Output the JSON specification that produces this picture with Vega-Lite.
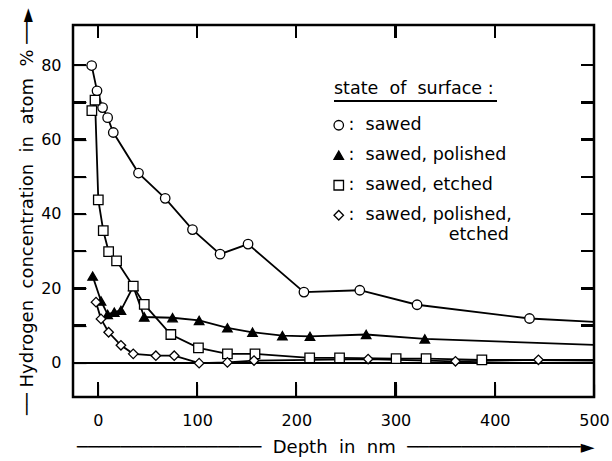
{
  "$schema": "https://vega.github.io/schema/vega-lite/v6.json",
  "width": 521,
  "height": 372,
  "autosize": {"type": "none"},
  "padding": {"left": 73, "top": 25, "right": 18, "bottom": 64},
  "background": "white",
  "config": {
    "font": "DejaVu Sans",
    "view": {"stroke": "black", "strokeWidth": 2.5},
    "axis": {
      "domain": false,
      "grid": false,
      "ticks": true,
      "offset": -13,
      "tickColor": "black",
      "tickOpacity": 1,
      "tickWidth": 1.2,
      "tickSize": 13,
      "labelFlush": false,
      "labelColor": "black",
      "labelFontSize": 16,
      "titleColor": "black",
      "titleFontWeight": "normal",
      "titleFontSize": 18
    }
  },
  "datasets": {
    "profiles": [
      {"state": "sawed", "depth": -6.2, "h": 79.9},
      {"state": "sawed", "depth": -0.8, "h": 73.1},
      {"state": "sawed", "depth": 4.8, "h": 68.6},
      {"state": "sawed", "depth": 9.9, "h": 65.9},
      {"state": "sawed", "depth": 15.6, "h": 61.9},
      {"state": "sawed", "depth": 41, "h": 51.0},
      {"state": "sawed", "depth": 67.9, "h": 44.2},
      {"state": "sawed", "depth": 95.4, "h": 35.8},
      {"state": "sawed", "depth": 123.2, "h": 29.2},
      {"state": "sawed", "depth": 151.4, "h": 31.9},
      {"state": "sawed", "depth": 207.7, "h": 19.0},
      {"state": "sawed", "depth": 264, "h": 19.5},
      {"state": "sawed", "depth": 321.7, "h": 15.6},
      {"state": "sawed", "depth": 435, "h": 11.9},
      {"state": "sawed", "depth": 500, "h": 11.0},

      {"state": "sawed, polished", "depth": -5.2, "h": 23.3},
      {"state": "sawed, polished", "depth": 3.2, "h": 16.6},
      {"state": "sawed, polished", "depth": 9.9, "h": 13.0},
      {"state": "sawed, polished", "depth": 16.6, "h": 13.6},
      {"state": "sawed, polished", "depth": 23.3, "h": 14.1},
      {"state": "sawed, polished", "depth": 35.7, "h": 20.5},
      {"state": "sawed, polished", "depth": 46.8, "h": 12.3},
      {"state": "sawed, polished", "depth": 75.3, "h": 12.1},
      {"state": "sawed, polished", "depth": 102.1, "h": 11.4},
      {"state": "sawed, polished", "depth": 130.6, "h": 9.4},
      {"state": "sawed, polished", "depth": 155.9, "h": 8.2},
      {"state": "sawed, polished", "depth": 186, "h": 7.3},
      {"state": "sawed, polished", "depth": 213.8, "h": 7.1},
      {"state": "sawed, polished", "depth": 270.4, "h": 7.6},
      {"state": "sawed, polished", "depth": 329.5, "h": 6.4},
      {"state": "sawed, polished", "depth": 500, "h": 4.8},

      {"state": "sawed, etched", "depth": -6, "h": 67.8},
      {"state": "sawed, etched", "depth": -2.8, "h": 70.6},
      {"state": "sawed, etched", "depth": 0.5, "h": 43.8},
      {"state": "sawed, etched", "depth": 5.5, "h": 35.5},
      {"state": "sawed, etched", "depth": 10.9, "h": 29.9},
      {"state": "sawed, etched", "depth": 18.9, "h": 27.4},
      {"state": "sawed, etched", "depth": 35.7, "h": 20.6},
      {"state": "sawed, etched", "depth": 46.8, "h": 15.7},
      {"state": "sawed, etched", "depth": 73.6, "h": 7.6},
      {"state": "sawed, etched", "depth": 101.4, "h": 4.0},
      {"state": "sawed, etched", "depth": 130.6, "h": 2.4},
      {"state": "sawed, etched", "depth": 158.4, "h": 2.4},
      {"state": "sawed, etched", "depth": 213.5, "h": 1.3},
      {"state": "sawed, etched", "depth": 243.6, "h": 1.3},
      {"state": "sawed, etched", "depth": 300.6, "h": 1.1},
      {"state": "sawed, etched", "depth": 330.8, "h": 1.1},
      {"state": "sawed, etched", "depth": 387, "h": 0.8},
      {"state": "sawed, etched", "depth": 500, "h": 0.6},

      {"state": "sawed, polished, etched", "depth": -1.8, "h": 16.3},
      {"state": "sawed, polished, etched", "depth": 3.2, "h": 11.8},
      {"state": "sawed, polished, etched", "depth": 10.9, "h": 8.2},
      {"state": "sawed, polished, etched", "depth": 23.3, "h": 4.7},
      {"state": "sawed, polished, etched", "depth": 35.7, "h": 2.4},
      {"state": "sawed, polished, etched", "depth": 58.5, "h": 1.9},
      {"state": "sawed, polished, etched", "depth": 77, "h": 1.9},
      {"state": "sawed, polished, etched", "depth": 102.1, "h": -0.1},
      {"state": "sawed, polished, etched", "depth": 130.6, "h": 0.1},
      {"state": "sawed, polished, etched", "depth": 157.4, "h": 0.6},
      {"state": "sawed, polished, etched", "depth": 272.4, "h": 1.0},
      {"state": "sawed, polished, etched", "depth": 360.4, "h": 0.4},
      {"state": "sawed, polished, etched", "depth": 444, "h": 0.8},
      {"state": "sawed, polished, etched", "depth": 500, "h": 0.8}
    ]
  },
  "data": {"name": "profiles"},
  "encoding": {
    "x": {
      "field": "depth",
      "type": "quantitative",
      "scale": {"domain": [-25, 500], "nice": false, "zero": false},
      "axis": null
    },
    "y": {
      "field": "h",
      "type": "quantitative",
      "scale": {"domain": [-9.2, 90.8], "nice": false, "zero": false},
      "axis": null
    }
  },
  "layer": [
    {
      "mark": {"type": "rule", "color": "black", "strokeWidth": 1},
      "encoding": {"y": {"datum": 0, "type": "quantitative", "axis": null}, "x": null}
    },
    {
      "mark": {"type": "rule", "color": "black", "strokeWidth": 1.3},
      "encoding": {
        "x": {"datum": 238, "type": "quantitative", "axis": null},
        "x2": {"datum": 402},
        "y": {"datum": 70.4, "type": "quantitative", "axis": null}
      }
    },
    {"mark": {"type": "rule", "color": "black", "strokeWidth": 1.4}, "encoding": {"x": {"datum": -25, "type": "quantitative", "axis": null}, "x2": {"datum": -11.9}, "y": {"datum": 10, "type": "quantitative", "axis": null}}},
    {"mark": {"type": "rule", "color": "black", "strokeWidth": 1.4}, "encoding": {"x": {"datum": -25, "type": "quantitative", "axis": null}, "x2": {"datum": -11.9}, "y": {"datum": 20, "type": "quantitative", "axis": null}}},
    {"mark": {"type": "rule", "color": "black", "strokeWidth": 1.4}, "encoding": {"x": {"datum": -25, "type": "quantitative", "axis": null}, "x2": {"datum": -11.9}, "y": {"datum": 30, "type": "quantitative", "axis": null}}},
    {"mark": {"type": "rule", "color": "black", "strokeWidth": 1.4}, "encoding": {"x": {"datum": -25, "type": "quantitative", "axis": null}, "x2": {"datum": -11.9}, "y": {"datum": 40, "type": "quantitative", "axis": null}}},
    {"mark": {"type": "rule", "color": "black", "strokeWidth": 1.4}, "encoding": {"x": {"datum": -25, "type": "quantitative", "axis": null}, "x2": {"datum": -11.9}, "y": {"datum": 50, "type": "quantitative", "axis": null}}},
    {"mark": {"type": "rule", "color": "black", "strokeWidth": 1.4}, "encoding": {"x": {"datum": -25, "type": "quantitative", "axis": null}, "x2": {"datum": -11.9}, "y": {"datum": 60, "type": "quantitative", "axis": null}}},
    {"mark": {"type": "rule", "color": "black", "strokeWidth": 1.4}, "encoding": {"x": {"datum": -25, "type": "quantitative", "axis": null}, "x2": {"datum": -11.9}, "y": {"datum": 70, "type": "quantitative", "axis": null}}},
    {"mark": {"type": "rule", "color": "black", "strokeWidth": 1.4}, "encoding": {"x": {"datum": -25, "type": "quantitative", "axis": null}, "x2": {"datum": -11.9}, "y": {"datum": 80, "type": "quantitative", "axis": null}}},
    {"mark": {"type": "rule", "color": "black", "strokeWidth": 1.4}, "encoding": {"x": {"datum": 486.9, "type": "quantitative", "axis": null}, "x2": {"datum": 500}, "y": {"datum": 10, "type": "quantitative", "axis": null}}},
    {"mark": {"type": "rule", "color": "black", "strokeWidth": 1.4}, "encoding": {"x": {"datum": 486.9, "type": "quantitative", "axis": null}, "x2": {"datum": 500}, "y": {"datum": 20, "type": "quantitative", "axis": null}}},
    {"mark": {"type": "rule", "color": "black", "strokeWidth": 1.4}, "encoding": {"x": {"datum": 486.9, "type": "quantitative", "axis": null}, "x2": {"datum": 500}, "y": {"datum": 30, "type": "quantitative", "axis": null}}},
    {"mark": {"type": "rule", "color": "black", "strokeWidth": 1.4}, "encoding": {"x": {"datum": 486.9, "type": "quantitative", "axis": null}, "x2": {"datum": 500}, "y": {"datum": 40, "type": "quantitative", "axis": null}}},
    {"mark": {"type": "rule", "color": "black", "strokeWidth": 1.4}, "encoding": {"x": {"datum": 486.9, "type": "quantitative", "axis": null}, "x2": {"datum": 500}, "y": {"datum": 50, "type": "quantitative", "axis": null}}},
    {"mark": {"type": "rule", "color": "black", "strokeWidth": 1.4}, "encoding": {"x": {"datum": 486.9, "type": "quantitative", "axis": null}, "x2": {"datum": 500}, "y": {"datum": 60, "type": "quantitative", "axis": null}}},
    {"mark": {"type": "rule", "color": "black", "strokeWidth": 1.4}, "encoding": {"x": {"datum": 486.9, "type": "quantitative", "axis": null}, "x2": {"datum": 500}, "y": {"datum": 70, "type": "quantitative", "axis": null}}},
    {"mark": {"type": "rule", "color": "black", "strokeWidth": 1.4}, "encoding": {"x": {"datum": 486.9, "type": "quantitative", "axis": null}, "x2": {"datum": 500}, "y": {"datum": 80, "type": "quantitative", "axis": null}}},
    {"mark": {"type": "rule", "color": "black", "strokeWidth": 1.4}, "encoding": {"x": {"datum": 0, "type": "quantitative", "axis": null}, "y": {"datum": -9.2, "type": "quantitative", "axis": null}, "y2": {"datum": -5.2}}},
    {"mark": {"type": "rule", "color": "black", "strokeWidth": 1.4}, "encoding": {"x": {"datum": 100, "type": "quantitative", "axis": null}, "y": {"datum": -9.2, "type": "quantitative", "axis": null}, "y2": {"datum": -5.2}}},
    {"mark": {"type": "rule", "color": "black", "strokeWidth": 1.4}, "encoding": {"x": {"datum": 200, "type": "quantitative", "axis": null}, "y": {"datum": -9.2, "type": "quantitative", "axis": null}, "y2": {"datum": -5.2}}},
    {"mark": {"type": "rule", "color": "black", "strokeWidth": 1.4}, "encoding": {"x": {"datum": 300, "type": "quantitative", "axis": null}, "y": {"datum": -9.2, "type": "quantitative", "axis": null}, "y2": {"datum": -5.2}}},
    {"mark": {"type": "rule", "color": "black", "strokeWidth": 1.4}, "encoding": {"x": {"datum": 400, "type": "quantitative", "axis": null}, "y": {"datum": -9.2, "type": "quantitative", "axis": null}, "y2": {"datum": -5.2}}},
    {"mark": {"type": "rule", "color": "black", "strokeWidth": 1.4}, "encoding": {"x": {"datum": 0, "type": "quantitative", "axis": null}, "y": {"datum": 87.3, "type": "quantitative", "axis": null}, "y2": {"datum": 90.8}}},
    {"mark": {"type": "rule", "color": "black", "strokeWidth": 1.4}, "encoding": {"x": {"datum": 100, "type": "quantitative", "axis": null}, "y": {"datum": 87.3, "type": "quantitative", "axis": null}, "y2": {"datum": 90.8}}},
    {"mark": {"type": "rule", "color": "black", "strokeWidth": 1.4}, "encoding": {"x": {"datum": 200, "type": "quantitative", "axis": null}, "y": {"datum": 87.3, "type": "quantitative", "axis": null}, "y2": {"datum": 90.8}}},
    {"mark": {"type": "rule", "color": "black", "strokeWidth": 1.4}, "encoding": {"x": {"datum": 300, "type": "quantitative", "axis": null}, "y": {"datum": 87.3, "type": "quantitative", "axis": null}, "y2": {"datum": 90.8}}},
    {"mark": {"type": "rule", "color": "black", "strokeWidth": 1.4}, "encoding": {"x": {"datum": 400, "type": "quantitative", "axis": null}, "y": {"datum": 87.3, "type": "quantitative", "axis": null}, "y2": {"datum": 90.8}}},
    {
      "mark": {"type": "line", "color": "black", "strokeWidth": 1.8},
      "encoding": {
        "detail": {"field": "state"},
        "x": {
          "field": "depth",
          "type": "quantitative",
          "axis": {
            "orient": "bottom",
            "values": [0, 100, 200, 300, 400, 500],
            "labelPadding": 15,
            "titlePadding": 10,
            "titleAnchor": "end",
            "title": "─────────────────\u00a0\u00a0Depth\u00a0\u00a0in\u00a0\u00a0nm\u00a0\u00a0────────────────►"
          }
        },
        "y": {
          "field": "h",
          "type": "quantitative",
          "axis": {
            "orient": "left",
            "values": [0, 10, 20, 30, 40, 50, 60, 70, 80],
            "labelExpr": "datum.value % 20 == 0 ? datum.label : ''",
            "labelPadding": 12,
            "titlePadding": 4,
            "title": "──\u00a0Hydrogen\u00a0\u00a0concentration\u00a0\u00a0in\u00a0\u00a0atom\u00a0\u00a0%\u00a0──►"
          }
        }
      }
    },
    {
      "transform": [{"filter": "datum.depth < 500"}],
      "mark": {"type": "point", "filled": false, "strokeWidth": 1.3, "size": 90, "opacity": 1},
      "encoding": {
        "shape": {
          "field": "state",
          "type": "nominal",
          "scale": {
            "domain": ["sawed", "sawed, polished", "sawed, etched", "sawed, polished, etched"],
            "range": ["circle", "triangle-up", "square", "diamond"]
          },
          "legend": {
            "title": "state\u00a0\u00a0of\u00a0\u00a0surface\u00a0:",
            "orient": "none",
            "legendX": 261,
            "legendY": 55,
            "padding": 0,
            "titleFontSize": 17.5,
            "titleFontWeight": "normal",
            "titleColor": "black",
            "titlePadding": 19,
            "labelFontSize": 17.5,
            "labelColor": "black",
            "labelOffset": 1,
            "labelLimit": 400,
            "rowPadding": 11,
            "symbolOffset": -4,
            "symbolSize": 90,
            "symbolStrokeWidth": 1.3,
            "labelExpr": "datum.label == 'sawed, polished, etched' ? [':\u00a0\u00a0sawed,\u00a0polished,', '\u200b\u00a0\u00a0\u00a0\u00a0\u00a0\u00a0\u00a0\u00a0\u00a0\u00a0\u00a0\u00a0\u00a0\u00a0\u00a0\u00a0\u00a0\u00a0etched'] : ':\u00a0\u00a0' + replace(datum.label, ' ', '\u00a0')"
          }
        },
        "fill": {
          "field": "state",
          "type": "nominal",
          "scale": {
            "domain": ["sawed", "sawed, polished", "sawed, etched", "sawed, polished, etched"],
            "range": ["white", "black", "white", "white"]
          },
          "legend": {"title": "state\u00a0\u00a0of\u00a0\u00a0surface\u00a0:"}
        },
        "stroke": {
          "field": "state",
          "type": "nominal",
          "scale": {
            "domain": ["sawed", "sawed, polished", "sawed, etched", "sawed, polished, etched"],
            "range": ["black", "black", "black", "black"]
          },
          "legend": {"title": "state\u00a0\u00a0of\u00a0\u00a0surface\u00a0:"}
        }
      }
    }
  ],
  "resolve": {"axis": {"x": "independent", "y": "independent"}}
}
